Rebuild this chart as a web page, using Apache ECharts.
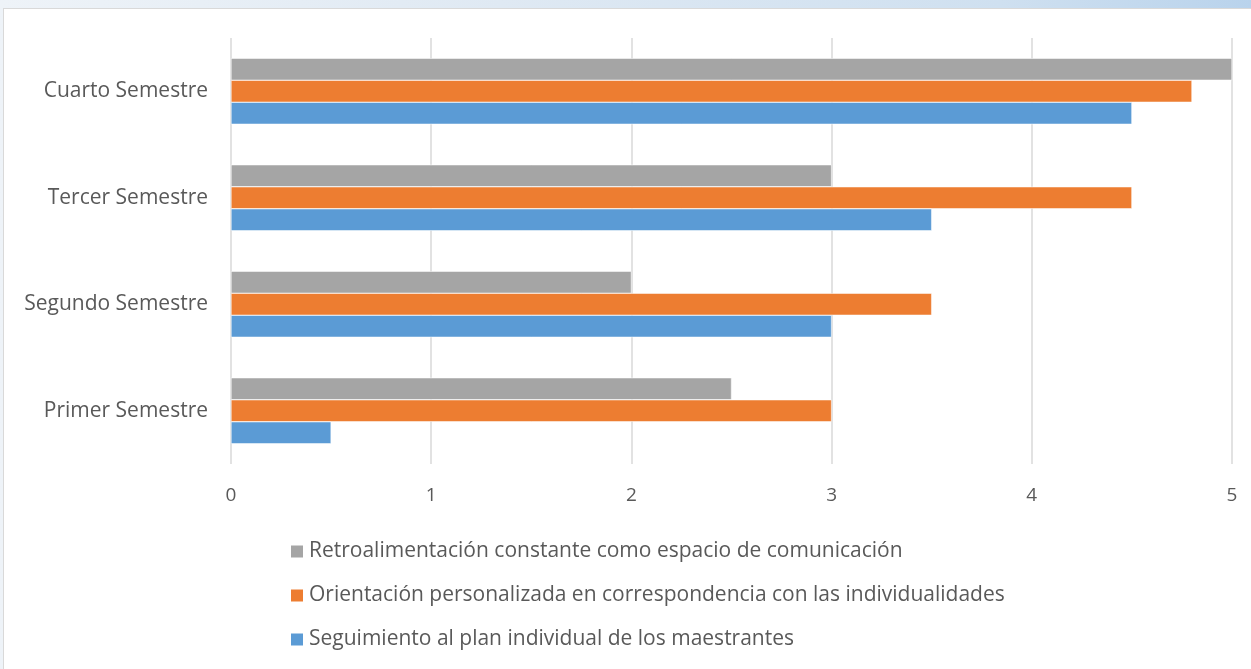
<!DOCTYPE html>
<html><head><meta charset="utf-8">
<script src="https://cdn.jsdelivr.net/npm/echarts@6/dist/echarts.min.js"></script>
<style>
html,body{margin:0;padding:0;width:1251px;height:669px;overflow:hidden;
background:linear-gradient(90deg,#eef3f8 0%,#dfe9f3 40%,#cfe0f0 80%,#b9d3ec 100%);}
#wrap{position:absolute;left:3px;top:8px;width:1247px;height:660px;background:#fff;border-top:1px solid #d9d9d9;border-left:1px solid #d9d9d9;}
#c{width:1247px;height:660px;}
</style></head>
<body><div id="wrap"><div id="c"></div></div>
<script>
const categories = ['Primer Semestre','Segundo Semestre','Tercer Semestre','Cuarto Semestre'];
const seriesNames = ['Retroalimentación constante como espacio de comunicación','Orientación personalizada en correspondencia con las individualidades','Seguimiento al plan individual de los maestrantes'];
const retroalimentacion = [2.5, 2, 3, 5];
const orientacion = [3, 3.5, 4.5, 4.8];
const seguimiento = [0.5, 3, 3.5, 4.5];
const xTicks = [0,1,2,3,4,5];
const colors = ['#A5A5A5','#ED7D31','#5B9BD5'];

const font = '"Open Sans", sans-serif';
const chart = echarts.init(document.getElementById('c'));
const mk = (name, data, color) => ({
  name, type:'bar', data, barWidth:22, barGap:'0%',
  itemStyle:{color, borderColor:'#fff', borderWidth:0.5}
});
chart.setOption({
  animation:false,
  textStyle:{fontFamily:font},
  grid:{left:227,right:19,top:29,bottom:205,containLabel:false},
  xAxis:{type:'value',min:xTicks[0],max:xTicks[xTicks.length-1],interval:1,
    axisLine:{show:false},axisTick:{show:false},
    splitLine:{lineStyle:{color:'#d9d9d9',width:1.5}},
    axisLabel:{color:'#595959',fontSize:19,margin:22,fontFamily:font}},
  yAxis:{type:'category',data:categories,
    axisLine:{show:false},axisTick:{show:false},
    axisLabel:{color:'#595959',fontSize:21,margin:23,fontFamily:font}},
  legend:{orient:'vertical',left:280,top:527,itemWidth:14,itemHeight:14,itemGap:23,
    icon:'rect',
    data:seriesNames,
    textStyle:{color:'#595959',fontSize:21,fontFamily:font}},
  series:[mk(seriesNames[0],retroalimentacion,colors[0]),mk(seriesNames[1],orientacion,colors[1]),mk(seriesNames[2],seguimiento,colors[2])]
});
</script></body></html>
